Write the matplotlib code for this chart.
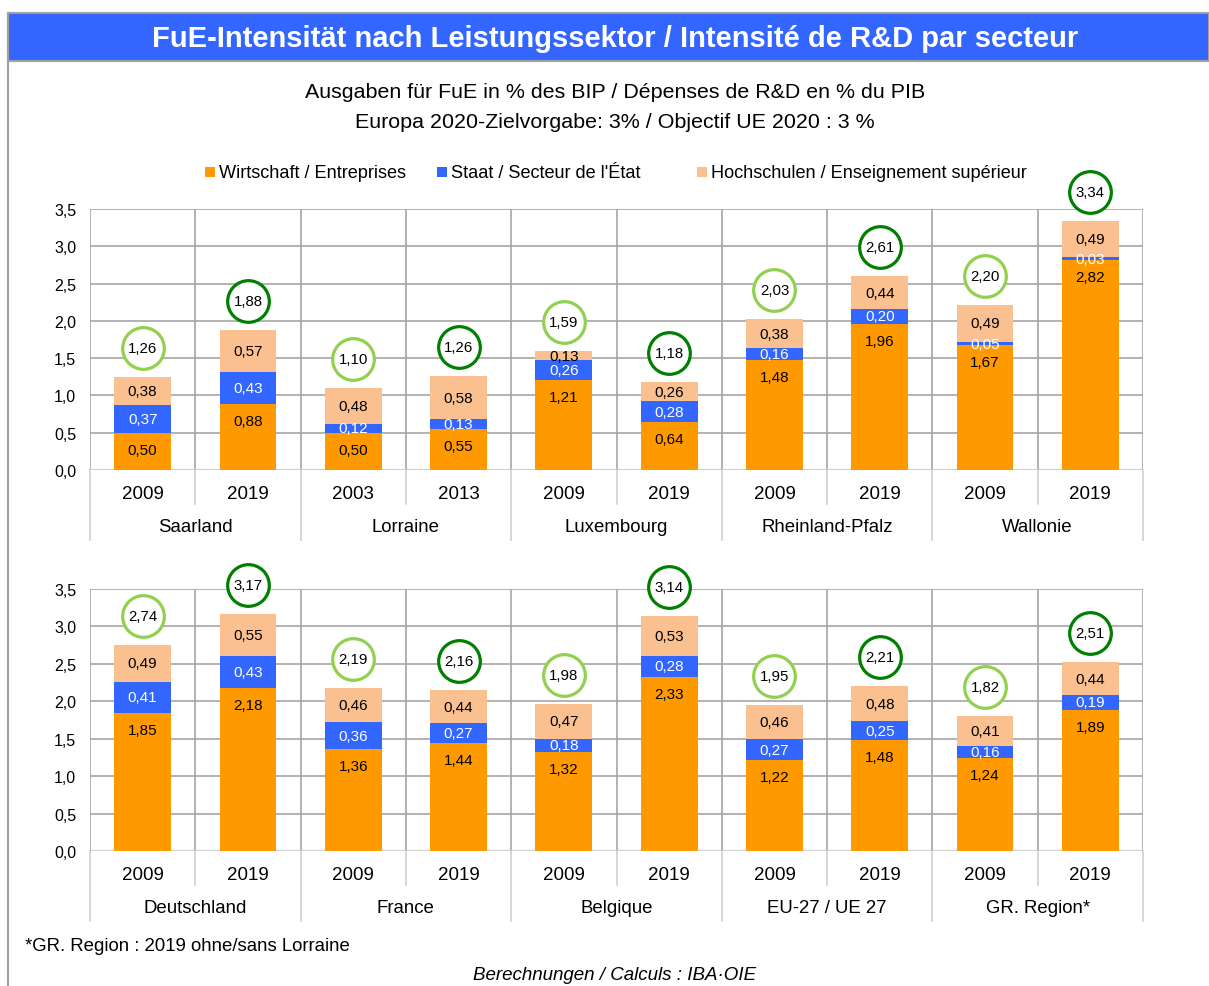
import matplotlib
matplotlib.use("Agg")
import matplotlib.pyplot as plt
import matplotlib.transforms as mtransforms
from matplotlib.lines import Line2D
from matplotlib.patches import Rectangle

plt.rcParams['font.family'] = ['Liberation Sans', 'DejaVu Sans']

# ---- data -------------------------------------------------------------
groups_top = ["Saarland", "Lorraine", "Luxembourg", "Rheinland-Pfalz", "Wallonie"]
years_top = ["2009", "2019", "2003", "2013", "2009", "2019", "2009", "2019", "2009", "2019"]
business_top = [0.50, 0.88, 0.50, 0.55, 1.21, 0.64, 1.48, 1.96, 1.67, 2.82]
government_top = [0.37, 0.43, 0.12, 0.13, 0.26, 0.28, 0.16, 0.20, 0.05, 0.03]
higher_ed_top = [0.38, 0.57, 0.48, 0.58, 0.13, 0.26, 0.38, 0.44, 0.49, 0.49]
totals_top = [1.26, 1.88, 1.10, 1.26, 1.59, 1.18, 2.03, 2.61, 2.20, 3.34]

groups_bottom = ["Deutschland", "France", "Belgique", "EU-27 / UE 27", "GR. Region*"]
years_bottom = ["2009", "2019"] * 5
business_bottom = [1.85, 2.18, 1.36, 1.44, 1.32, 2.33, 1.22, 1.48, 1.24, 1.89]
government_bottom = [0.41, 0.43, 0.36, 0.27, 0.18, 0.28, 0.27, 0.25, 0.16, 0.19]
higher_ed_bottom = [0.49, 0.55, 0.46, 0.44, 0.47, 0.53, 0.46, 0.48, 0.41, 0.44]
totals_bottom = [2.74, 3.17, 2.19, 2.16, 1.98, 3.14, 1.95, 2.21, 1.82, 2.51]

series_names = ["Wirtschaft / Entreprises", "Staat / Secteur de l'État",
                "Hochschulen / Enseignement supérieur"]
yticks = [0.0, 0.5, 1.0, 1.5, 2.0, 2.5, 3.0, 3.5]

# ---- styles -----------------------------------------------------------
C_BUS = "#FF9900"
C_GOV = "#3366FF"
C_HE = "#FAC090"
C_LIGHT = "#92D050"
C_DARK = "#008000"
GRID = "#A6A6A6"
SEP = "#D0D0D0"

W, H = 1209, 987
fig = plt.figure(figsize=(W / 100, H / 100), dpi=100)


def fx(px):
    return px / W


def fy(py):
    return 1 - py / H


# header bar and frame
fig.patches.append(Rectangle((fx(8), fy(62)), fx(W - 8), fy(14) - fy(62),
                             transform=fig.transFigure, facecolor="#3366FF",
                             edgecolor="#A0A0A0", lw=1.5))
fig.lines.append(Line2D([fx(8), fx(8)], [fy(14), 0], transform=fig.transFigure,
                        color="#A0A0A0", lw=1.5))
fig.text(fx(615), fy(39), "FuE-Intensität nach Leistungssektor / Intensité de R&D par secteur",
         color="white", fontsize=21, fontweight="bold", ha="center", va="center")
fig.text(fx(615), fy(93), "Ausgaben für FuE in % des BIP / Dépenses de R&D en % du PIB",
         fontsize=15.4, ha="center", va="center")
fig.text(fx(615), fy(122), "Europa 2020-Zielvorgabe: 3% / Objectif UE 2020 : 3 %",
         fontsize=15.4, ha="center", va="center")

# legend
leg_items = [(205, series_names[0], C_BUS), (437, series_names[1], C_GOV),
             (697, series_names[2], C_HE)]
for x0, name, col in leg_items:
    fig.patches.append(Rectangle((fx(x0), fy(178)), fx(10), fy(168) - fy(178),
                                 transform=fig.transFigure, facecolor=col, edgecolor="none"))
    fig.text(fx(x0 + 14), fy(173), name, fontsize=13.1, ha="left", va="center")


def draw_panel(top_px, bottom_px, groups, years, bus, gov, he, totals):
    left_px, right_px = 90, 1143
    ax = fig.add_axes([fx(left_px), fy(bottom_px), fx(right_px - left_px),
                       fy(top_px) - fy(bottom_px)])
    n = len(years)
    x = list(range(n))
    ax.set_xlim(-0.5, n - 0.5)
    ax.set_ylim(0, 3.5)
    ax.set_yticks(yticks)
    ax.set_yticklabels([f"{v:.1f}".replace(".", ",") for v in yticks], fontsize=11.5)
    ax.tick_params(axis="y", length=0, pad=10)
    ax.set_xticks(x)
    ax.set_xticklabels(years, fontsize=13.5)
    ax.tick_params(axis="x", length=0, pad=11)
    for s in ax.spines.values():
        s.set_visible(False)
    ax.set_axisbelow(True)
    for v in yticks[1:]:
        ax.axhline(v, color=GRID, lw=1.2, zorder=0)
    ax.axhline(0, color=SEP, lw=1.5, zorder=0)
    for i in range(n + 1):
        ax.axvline(i - 0.5, color=GRID, lw=1.2, zorder=0)

    bw = 0.54
    ax.bar(x, bus, bw, color=C_BUS, zorder=2)
    ax.bar(x, gov, bw, bottom=bus, color=C_GOV, zorder=2)
    bottom3 = [a + b for a, b in zip(bus, gov)]
    ax.bar(x, he, bw, bottom=bottom3, color=C_HE, zorder=2)

    fmt = lambda v: f"{v:.2f}".replace(".", ",")
    inside_end = mtransforms.offset_copy(ax.transData, fig=fig, y=-17, units="dots")
    for i in range(n):
        ax.text(x[i], bus[i], fmt(bus[i]), transform=inside_end,
                ha="center", va="center", fontsize=11, zorder=3)
        ax.text(x[i], bus[i] + gov[i] / 2, fmt(gov[i]), ha="center", va="center",
                fontsize=11, color="white", zorder=3)
        ax.text(x[i], bottom3[i] + he[i] / 2, fmt(he[i]), ha="center", va="center",
                fontsize=11, zorder=3)

    # total circles above each bar
    tr = mtransforms.offset_copy(ax.transData, fig=fig, y=29, units="dots")
    for i in range(n):
        col = C_LIGHT if i % 2 == 0 else C_DARK
        top = bottom3[i] + he[i]
        ax.plot([x[i]], [top], marker="o", markersize=30, markerfacecolor="white",
                markeredgecolor=col, markeredgewidth=2.3, transform=tr, clip_on=False, zorder=4)
        ax.text(x[i], top, fmt(totals[i]), transform=tr, ha="center", va="center",
                fontsize=10.8, zorder=5, clip_on=False)

    # category separators below the axis
    h_px = bottom_px - top_px
    for i in range(n + 1):
        depth = 70 if i % 2 == 0 else 34
        ax.plot([i - 0.5, i - 0.5], [0, -depth / h_px], color=SEP, lw=1.2,
                transform=ax.get_xaxis_transform(), clip_on=False)
    for g, name in enumerate(groups):
        ax.text(2 * g + 0.5, -57 / h_px, name, ha="center", va="center", fontsize=13.4,
                transform=ax.get_xaxis_transform())
    return ax


draw_panel(210, 471, groups_top, years_top, business_top, government_top,
           higher_ed_top, totals_top)
draw_panel(590, 852, groups_bottom, years_bottom, business_bottom, government_bottom,
           higher_ed_bottom, totals_bottom)

fig.text(fx(25), fy(947), "*GR. Region : 2019 ohne/sans Lorraine", fontsize=13.4,
         ha="left", va="center")
fig.text(fx(615), fy(976), "Berechnungen / Calculs : IBA·OIE", fontsize=13.5,
         ha="center", va="center", style="italic")

fig.savefig("out.png", dpi=100)
